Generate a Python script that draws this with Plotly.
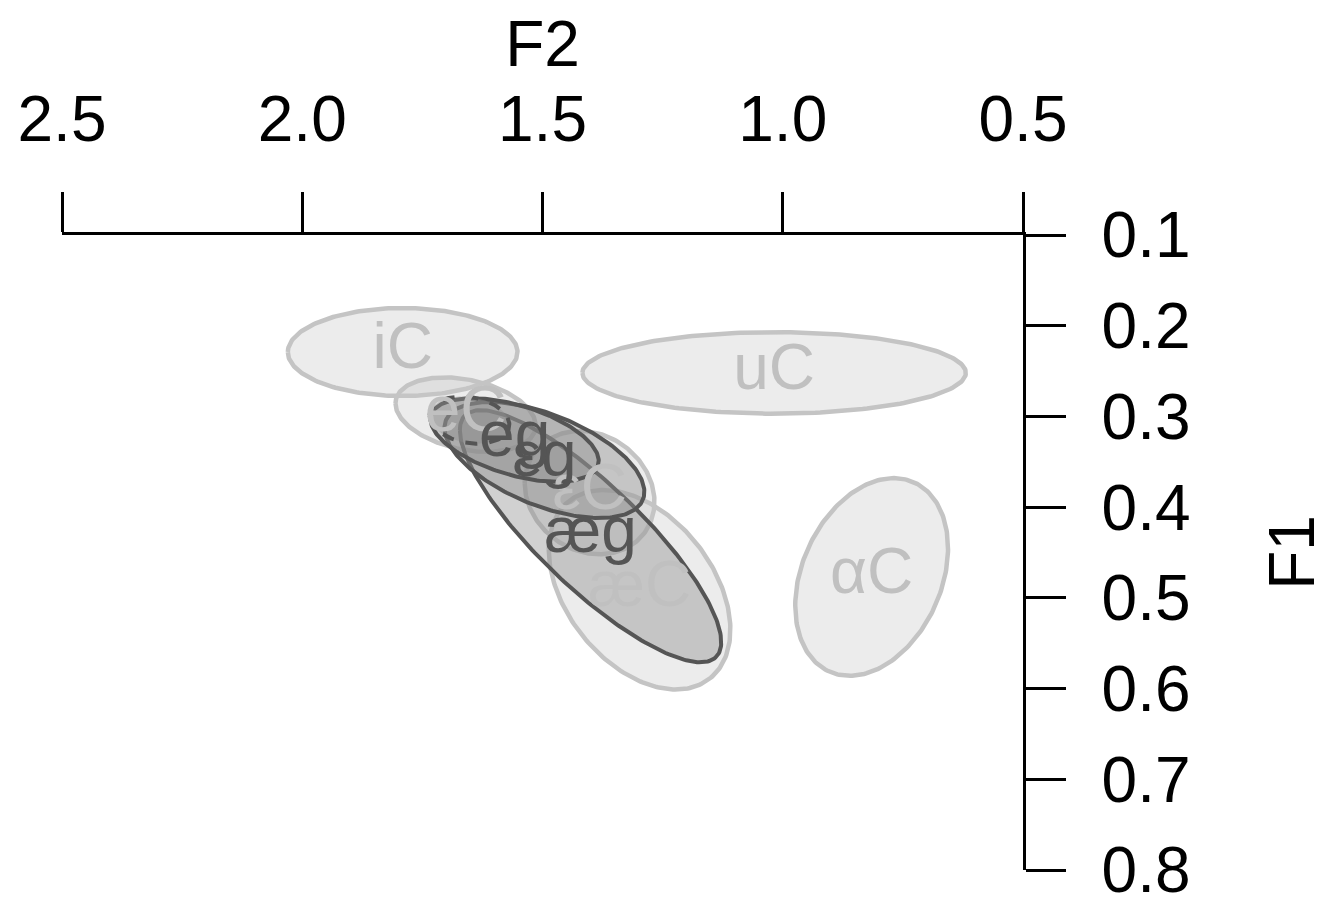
import numpy as np
import plotly.graph_objects as go

# ---- data (F2, F1 means, spreads, correlation) ----
light_labels = ["iC", "uC", "αC", "æC", "εC", "eC"]
light_f2 = [1.791, 1.018, 0.815, 1.298, 1.402, 1.660]
light_f1 = [0.229, 0.252, 0.477, 0.491, 0.384, 0.298]
light_sd2 = [0.239, 0.399, 0.159, 0.189, 0.135, 0.146]
light_sd1 = [0.0485, 0.045, 0.109, 0.110, 0.068, 0.041]
light_r = [0.0, 0.0, 0.29, -0.4, -0.15, -0.3]

dark_labels = ["æg", "εg", "eg", ""]
dark_f2 = [1.400, 1.496, 1.558, 1.652]
dark_f1 = [0.432, 0.348, 0.326, 0.304]
dark_sd2 = [0.272, 0.208, 0.175, 0.083]
dark_sd1 = [0.139, 0.064, 0.046, 0.026]
dark_r = [-0.84, -0.55, -0.5, -0.2]
dark_dash = ["solid", "solid", "solid", "dash"]

x_ticks = [2.5, 2.0, 1.5, 1.0, 0.5]
y_ticks = [0.1, 0.2, 0.3, 0.4, 0.5, 0.6, 0.7, 0.8]

FONT = "Liberation Sans, Arial, Helvetica, sans-serif"
FS = 64


def ellipse(cx, cy, sx, sy, r, n=240):
    t = np.linspace(0, 2 * np.pi, n)
    x = cx + sx * np.cos(t)
    y = cy + sy * (r * np.cos(t) + np.sqrt(1 - r * r) * np.sin(t))
    return x, y


fig = go.Figure()

for i in range(len(light_labels)):
    x, y = ellipse(light_f2[i], light_f1[i], light_sd2[i], light_sd1[i], light_r[i])
    fig.add_trace(go.Scatter(
        x=x, y=y, mode="lines", fill="toself",
        fillcolor="rgba(200,200,200,0.35)",
        line=dict(color="#c4c4c4", width=4.5),
        hoverinfo="skip", showlegend=False))

for i in range(len(dark_labels)):
    x, y = ellipse(dark_f2[i], dark_f1[i], dark_sd2[i], dark_sd1[i], dark_r[i])
    fig.add_trace(go.Scatter(
        x=x, y=y, mode="lines", fill="toself",
        fillcolor="rgba(140,140,140,0.4)",
        line=dict(color="#555555", width=4, dash=dark_dash[i]),
        hoverinfo="skip", showlegend=False))

fig.add_trace(go.Scatter(
    x=light_f2, y=light_f1, mode="text", text=light_labels,
    textfont=dict(family=FONT, size=FS, color="#c0c0c0"),
    hoverinfo="skip", showlegend=False))
fig.add_trace(go.Scatter(
    x=dark_f2, y=dark_f1, mode="text", text=dark_labels,
    textfont=dict(family=FONT, size=FS, color="#555555"),
    hoverinfo="skip", showlegend=False))

fig.update_layout(
    width=1320, height=893,
    margin=dict(l=54, r=305, t=227, b=31),
    paper_bgcolor="white", plot_bgcolor="white",
    font=dict(family=FONT, color="black", size=FS),
    xaxis=dict(
        range=[2.5, 0.5], side="top", showgrid=False, zeroline=False,
        showline=True, linecolor="black", linewidth=2.5,
        ticks="outside", ticklen=40, tickwidth=2.5, tickcolor="black",
        tickvals=x_ticks, ticktext=[f"{v:.1f}" for v in x_ticks],
        tickfont=dict(size=FS), ticklabelstandoff=26,
        ticklabeloverflow="allow",
        title=dict(text="F2", font=dict(size=FS), standoff=18),
        automargin=False),
    yaxis=dict(
        range=[0.8, 0.1], side="right", showgrid=False, zeroline=False,
        showline=True, linecolor="black", linewidth=2.5,
        ticks="outside", ticklen=40, tickwidth=2.5, tickcolor="black",
        tickvals=y_ticks, ticktext=[f"{v:.1f}" for v in y_ticks],
        tickfont=dict(size=FS), ticklabelstandoff=23,
        ticklabeloverflow="allow",
        title=dict(text="F1", font=dict(size=FS), standoff=80),
        automargin=False),
)

fig.write_html("out.html")
